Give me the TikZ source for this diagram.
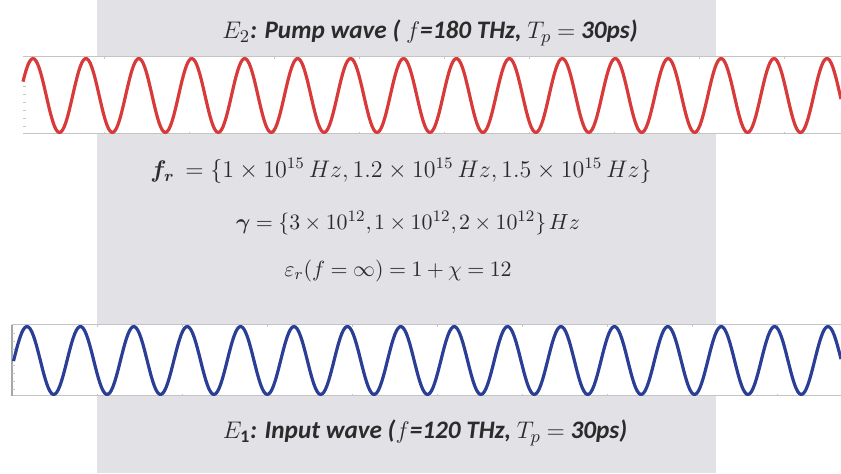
\documentclass[tikz,border=0pt]{standalone}
\usepackage{amsmath}
\usepackage{amssymb}
\usepackage{bm}
\usepackage{fontspec}
\setmainfont{Carlito}
\usepackage{tikz}
\usetikzlibrary{positioning}
\definecolor{panel}{HTML}{E1E1E6}
\definecolor{ink}{HTML}{2B2B2B}
\definecolor{pump}{HTML}{D83A3A}
\definecolor{probe}{HTML}{2B3E96}
\definecolor{axis}{HTML}{C4C4C4}
\newcommand{\tightspacing}{%
  \thickmuskip=4.5mu\relax\medmuskip=3.5mu\relax\thinmuskip=2mu\relax}
\tikzset{
  strip/.style={fill=white, draw=none},
  axisline/.style={draw=axis, line width=0.5pt},
  wave/.style={line width=1.6pt, line join=round},
  pumpwave/.style={wave, draw=pump},
  inputwave/.style={wave, draw=probe},
  caption/.style={
    font=\fontsize{12.6}{15}\selectfont\itshape\bfseries,
    text=ink,
    inner sep=0pt
  },
  formula/.style={
    font=\fontsize{11.5}{14}\selectfont,
    text=ink,
    inner sep=0pt
  },
  tightformula/.style={
    formula,
    font=\fontsize{11.3}{13}\selectfont\tightspacing
  }
}

\begin{document}
\begin{tikzpicture}[x=0.5pt, y=-0.5pt]
  \useasboundingbox (0,0) rectangle (841,474);
  \fill[panel] (97,0) rectangle (716,473);

  % pump wave strip
  \fill[strip] (23,57) rectangle (841,134);
  \draw[axisline] (23,57) -- (841,57);
  \draw[axisline] (23,134) -- (841,134);
  \foreach \t in {104,189,...,841} {
    \draw[axisline] (\t,57) -- (\t,59);
    \draw[axisline] (\t,134) -- (\t,132);
  }
  \foreach \t in {87,95,103,111,119,127}
    \draw[axisline] (23,\t) -- (26,\t);
  \draw[pumpwave] plot[domain=23:841, samples=500]
    (\x, {95.5 - 37*cos((\x-33)/52.93*360)});

  % input wave strip
  \fill[strip] (12,325) rectangle (841,396);
  \draw[axisline] (12,325) -- (841,325);
  \draw[axisline] (12,396) -- (841,396);
  \draw[draw=gray!70, line width=0.6pt] (12,325) -- (12,396);
  \foreach \t in {97,182,...,841} {
    \draw[axisline] (\t,325) -- (\t,327);
    \draw[axisline] (\t,396) -- (\t,394);
  }
  \foreach \t in {334,342,350,358,366,374,382,390}
    \draw[axisline] (12,\t) -- (15,\t);
  \draw[inputwave] plot[domain=13.5:841, samples=500]
    (\x, {360.5 - 34*cos((\x-27)/53.4*360)});

  \node[caption] (pumptitle) at (430,33)
    {$E_2$: Pump wave ( $f$=180 THz, $T_p$ $=$ 30ps)};

  \node[formula] (resonance) at (401,171)
    {$\bm{f_r}\, = \{1\times10^{15}\,Hz, 1.2\times10^{15}\,Hz, 1.5\times10^{15}\,Hz\}$};
  \node[tightformula] (damping) at (408,223)
    {$\bm{\gamma} = \{3\times10^{12}, 1\times10^{12}, 2\times10^{12}\}\,Hz$};
  \node[tightformula] (permittivity) at (398,271)
    {$\varepsilon_r(f=\infty) = 1+\chi = 12$};

  \node[caption] (inputtitle) at (425,433)
    {$E_{\mathbf{1}}$: Input wave ($f$=120 THz, $T_p$ $=$ 30ps)};
\end{tikzpicture}
\end{document}
